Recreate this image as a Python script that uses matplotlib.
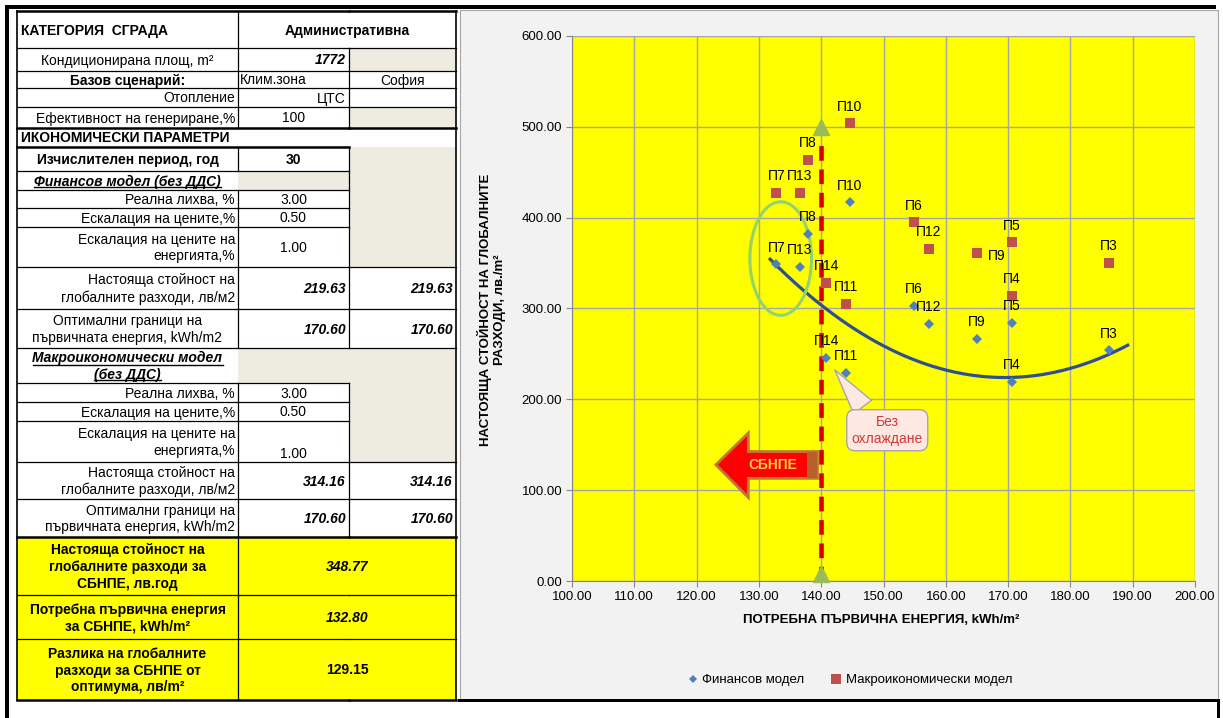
import matplotlib
matplotlib.use("Agg")
import matplotlib.pyplot as plt
import numpy as np
from matplotlib.patches import Rectangle, Ellipse, Polygon
from matplotlib.lines import Line2D
import matplotlib.transforms as mtransforms

plt.rcParams['font.family'] = ['Liberation Sans', 'DejaVu Sans']

# ---------------- data ----------------
packages = ['П3', 'П4', 'П5', 'П6', 'П7', 'П8', 'П9', 'П10', 'П11', 'П12', 'П13', 'П14']
energy = [186.2, 170.6, 170.6, 154.9, 132.8, 137.9, 165.0, 144.6, 144.0, 157.3, 136.6, 140.8]
fin_cost = [254.0, 219.63, 284.0, 303.0, 348.77, 382.0, 266.5, 417.0, 229.0, 283.0, 346.0, 245.6]
macro_cost = [350.0, 314.16, 373.0, 395.0, 427.0, 463.6, 361.0, 504.0, 305.0, 366.0, 427.0, 328.0]
sbnpe_limit = 140.0
sbnpe_arrow_top = 500.0

# polynomial trend line (financial model): vertex form
trend_vertex_x = 169.5
trend_min = 224.0
trend_curv = 0.0917
trend_range = [131.8, 189.2]

x_ticks = [100, 110, 120, 130, 140, 150, 160, 170, 180, 190, 200]
y_ticks = [0, 100, 200, 300, 400, 500, 600]

legend_labels = ['Финансов модел', 'Макроикономически модел']
x_title = 'ПОТРЕБНА ПЪРВИЧНА ЕНЕРГИЯ, kWh/m²'
y_title = 'НАСТОЯЩА СТОЙНОСТ НА ГЛОБАЛНИТЕ\nРАЗХОДИ, лв./m²'

# table rows: (col1 text, col1 align, col1 style, col2 text, col3 text, col2 fmt, col3 fmt, fills)
table_rows = [
    ('КАТЕГОРИЯ  СГРАДА', 'left', 'b', 'Административна', None, 'merge|b', None, ('w', 'w', 'w')),
    ('Кондиционирана площ, m²', 'center', 'n', '1772', '', 'right|bi', None, ('w', 'w', 'g')),
    ('Базов сценарий:', 'center', 'b', 'Клим.зона', 'София', 'left|n', 'center|n', ('w', 'w', 'w')),
    ('Отопление', 'right', 'n', 'ЦТС', '', 'right|n', None, ('w', 'w', 'w')),
    ('Ефективност на генериране,%', 'right', 'n', '100', '', 'center|n', None, ('w', 'w', 'g')),
    ('ИКОНОМИЧЕСКИ ПАРАМЕТРИ', 'left', 'b', '', '', None, None, ('w', 'w', 'w')),
    ('Изчислителен период, год', 'center', 'b', '30', '', 'center|b', None, ('w', 'w', 'g')),
    ('Финансов модел (без ДДС)', 'center', 'biu', '', '', None, None, ('w', 'g', 'g')),
    ('Реална лихва, %', 'right', 'n', '3.00', '', 'center|n', None, ('w', 'w', 'g')),
    ('Ескалация на цените,%', 'right', 'n', '0.50', '', 'center|n', None, ('w', 'w', 'g')),
    ('Ескалация на цените на\nенергията,%', 'right', 'n', '1.00', '', 'center|n', None, ('w', 'w', 'g')),
    ('Настояща стойност на\nглобалните разходи, лв/м2', 'right', 'n', '219.63', '219.63', 'right|bi', 'right|bi', ('w', 'w', 'w')),
    ('Оптимални граници на\nпървичната енергия, kWh/m2', 'center', 'n', '170.60', '170.60', 'right|bi', 'right|bi', ('w', 'w', 'w')),
    ('Макроикономически модел\n(без ДДС)', 'center', 'biu', '', '', None, None, ('w', 'g', 'g')),
    ('Реална лихва, %', 'right', 'n', '3.00', '', 'center|n', None, ('w', 'w', 'g')),
    ('Ескалация на цените,%', 'right', 'n', '0.50', '', 'center|n', None, ('w', 'w', 'g')),
    ('Ескалация на цените на\nенергията,%', 'right', 'n', '1.00', '', 'bottom|n', None, ('w', 'w', 'g')),
    ('Настояща стойност на\nглобалните разходи, лв/м2', 'right', 'n', '314.16', '314.16', 'right|bi', 'right|bi', ('w', 'w', 'w')),
    ('Оптимални граници на\nпървичната енергия, kWh/m2', 'right', 'n', '170.60', '170.60', 'right|bi', 'right|bi', ('w', 'w', 'w')),
    ('Настояща стойност на\nглобалните разходи за\nСБНПЕ, лв.год', 'center', 'b', '348.77', None, 'merge|bi', None, ('y', 'y', 'y')),
    ('Потребна първична енергия\nза СБНПЕ, kWh/m²', 'center', 'b', '132.80', None, 'merge|bi', None, ('y', 'y', 'y')),
    ('Разлика на глобалните\nразходи за СБНПЕ от\nоптимума, лв/m²', 'center', 'b', '129.15', None, 'merge|b', None, ('y', 'y', 'y')),
]

# ---------------- layout ----------------
W, H = 1223, 718
fig = plt.figure(figsize=(W / 100, H / 100), dpi=100)
fig.patch.set_facecolor('white')

tab = fig.add_axes([0, 0, 1, 1], zorder=0)
tab.set_xlim(0, W)
tab.set_ylim(H, 0)
tab.axis('off')

FILL = {'w': 'white', 'g': '#EEECE1', 'y': '#FFFF00'}
row_edges = [11, 48, 71, 88, 107, 128, 147, 171, 190, 208, 227, 267, 309, 348,
             383, 402, 421, 462, 499, 537, 595, 639, 700]
cx = [17, 238, 349, 456]
FS = 10

# chart area background
tab.add_patch(Rectangle((460, 10), 1218 - 460, 690, fc='#F2F2F2', ec='#A6A6A6', lw=0.8, zorder=1))


def put(text, fmt, xa, xb, y0, y1):
    if text is None or text == '' or fmt is None:
        return
    pos, sty = fmt.split('|')
    w = 'bold' if 'b' in sty else 'normal'
    st = 'italic' if 'i' in sty else 'normal'
    yy, va = (y0 + y1) / 2 + 1, 'center'
    if pos == 'bottom':
        yy, va, pos = y1 - 1, 'bottom', 'center'
    if pos == 'merge':
        pos = 'center'
    if pos == 'right':
        x, ha = xb - 3, 'right'
    elif pos == 'left':
        x, ha = xa + 2, 'left'
    else:
        x, ha = (xa + xb) / 2, 'center'
    tab.text(x, yy, text, ha=ha, va=va, fontsize=FS, fontweight=w, fontstyle=st, zorder=5)


underline_texts = []
for i, row in enumerate(table_rows):
    t1, a1, s1, t2, t3, f2, f3, fills = row
    y0, y1 = row_edges[i], row_edges[i + 1]
    ym = (y0 + y1) / 2
    for j in range(3):
        tab.add_patch(Rectangle((cx[j], y0), cx[j + 1] - cx[j], y1 - y0,
                                fc=FILL[fills[j]], ec='none', zorder=1))
    weight = 'bold' if 'b' in s1 else 'normal'
    style = 'italic' if 'i' in s1 else 'normal'
    if a1 == 'left':
        tx = cx[0] + 4
    elif a1 == 'right':
        tx = cx[1] - 3
    else:
        tx = (cx[0] + cx[1]) / 2
    txt = tab.text(tx, ym + 1, t1, ha=a1, va='center', fontsize=FS, fontweight=weight,
                   fontstyle=style, linespacing=1.25, zorder=5, multialignment=a1)
    if 'u' in s1:
        underline_texts.append(txt)
    if f2 is not None and f2.startswith('merge'):
        put(t2, f2, cx[1], cx[3], y0, y1)
    else:
        put(t2, f2, cx[1], cx[2], y0, y1)
        put(t3, f3, cx[2], cx[3], y0, y1)

# table borders
lc = 'black'
for i, y in enumerate(row_edges):
    lw = 1.8 if i in (0, 5, 6, 19, 22) else 0.9
    tab.plot([cx[0], cx[2]], [y, y], color=lc, lw=lw, zorder=6)
    above = table_rows[i - 1][7][2] if i > 0 else 'w'
    below = table_rows[i][7][2] if i < len(table_rows) else 'w'
    if not (above == 'g' and below == 'g') and i != 6:
        tab.plot([cx[2], cx[3]], [y, y], color=lc, lw=lw, zorder=6)
tab.plot([cx[0], cx[0]], [row_edges[0], row_edges[-1]], color=lc, lw=1.2, zorder=6)
tab.plot([cx[3], cx[3]], [row_edges[0], row_edges[-1]], color=lc, lw=1.2, zorder=6)
for i in range(len(table_rows)):
    y0, y1 = row_edges[i], row_edges[i + 1]
    if i not in (5, 7, 13):
        tab.plot([cx[1], cx[1]], [y0, y1], color=lc, lw=0.9, zorder=6)
    if i in (1, 2, 3, 4, 11, 12, 17, 18) or (6 <= i <= 10) or (14 <= i <= 16):
        tab.plot([cx[2], cx[2]], [y0, y1], color=lc, lw=0.9, zorder=6)

# black screenshot frame
tab.add_patch(Rectangle((5, 5), 1211, 4, fc='black', ec='none', zorder=7))
tab.add_patch(Rectangle((5, 5), 4, 713, fc='black', ec='none', zorder=7))
tab.add_patch(Rectangle((458, 699), 762, 3, fc='black', ec='none', zorder=7))
tab.add_patch(Rectangle((1217, 700), 3, 18, fc='black', ec='none', zorder=7))

# ---------------- chart ----------------
L, R, T, B = 572, 1195, 36, 581
ax = fig.add_axes([L / W, 1 - B / H, (R - L) / W, (B - T) / H], zorder=2)
ax.set_facecolor('#FFFF00')
ax.set_xlim(100, 200)
ax.set_ylim(0, 600)
ax.set_xticks(x_ticks)
ax.set_yticks(y_ticks)
ax.set_xticklabels([f'{v:.2f}' for v in x_ticks])
ax.set_yticklabels([f'{v:.2f}' for v in y_ticks])
ax.grid(True, color='#A6A6A6', lw=1.0, zorder=0)
ax.set_axisbelow(True)
for s in ('top', 'right'):
    ax.spines[s].set_visible(False)
for s in ('left', 'bottom'):
    ax.spines[s].set_color('#868686')
ax.tick_params(axis='both', direction='out', length=4, color='#868686', labelsize=9.5, pad=3)

ax.set_xlabel(x_title, fontsize=9.5, fontweight='bold')
ax.xaxis.set_label_coords(0.497, -0.061)
ax.set_ylabel(y_title, fontsize=9.5, fontweight='bold', linespacing=1.2)
ax.yaxis.set_label_coords(-0.106, 0.497)

# SBNPE vertical dashed line and green arrow heads
ax.plot([sbnpe_limit, sbnpe_limit], [0, 480], color='#D40000', lw=3.3,
        dashes=(3.2, 1.9), zorder=4, solid_capstyle='butt')
ax.plot([sbnpe_limit], [sbnpe_arrow_top], marker='^', ms=12, color='#9BBB59', zorder=5, clip_on=False)
tr_up = mtransforms.offset_copy(ax.transData, fig=fig, x=0, y=5, units='points')
ax.plot([sbnpe_limit], [0], marker='^', ms=12, color='#9BBB59', zorder=5, clip_on=False, transform=tr_up)

# trend line
xt = np.linspace(trend_range[0], trend_range[1], 200)
ax.plot(xt, trend_curv * (xt - trend_vertex_x) ** 2 + trend_min, color='#2F4F8F', lw=2.3, zorder=3)

# scatter series
ax.plot(energy, fin_cost, linestyle='none', marker='D', ms=5, color='#4F81BD', mew=0, zorder=6)
ax.plot(energy, macro_cost, linestyle='none', marker='s', ms=7.3, color='#C0504D', mew=0, zorder=6)

for lbl, xv, yf, ym_ in zip(packages, energy, fin_cost, macro_cost):
    ax.annotate(lbl, (xv, yf), textcoords='offset points', xytext=(0, 12), ha='center',
                va='center', fontsize=10, zorder=7)
    if lbl == 'П9':
        ax.annotate(lbl, (xv, ym_), textcoords='offset points', xytext=(8, -2), ha='left',
                    va='center', fontsize=10, zorder=7)
    else:
        ax.annotate(lbl, (xv, ym_), textcoords='offset points', xytext=(0, 12), ha='center',
                    va='center', fontsize=10, zorder=7)

# green ellipse around П7 / П13
ax.add_patch(Ellipse((133.5, 355), 9.9, 125, fc='none', ec='#92D36E', lw=2.2, zorder=5))

# callout "Без охлаждане"
ax.annotate('Без\nохлаждане', xy=(141.9, 235), xytext=(150.6, 166),
            ha='center', va='center', fontsize=10, color='#D03838', zorder=8, linespacing=1.3,
            bbox=dict(boxstyle='round,pad=0.35,rounding_size=0.6', fc='#FDE9E1', ec='#A6A6A6', lw=1),
            arrowprops=dict(arrowstyle='wedge,tail_width=1.6,shrink_factor=0.5', fc='#FDE9E1',
                            ec='#A6A6A6', lw=1, relpos=(0.25, 0.95)))

# SBNPE block arrow pointing left
arrow_pts = [(123.1, 128), (128.3, 163), (128.3, 142.5), (sbnpe_limit - 0.6, 142.5),
             (sbnpe_limit - 0.6, 113), (128.3, 113), (128.3, 92)]
ax.add_patch(Polygon(arrow_pts, closed=True, fc='#FF0000', ec='#C07830', lw=2, zorder=7))
ax.add_patch(Rectangle((sbnpe_limit - 2.3, 113), 1.7, 29.5, fc='#B8602C', ec='none', zorder=7))
ax.text(132.3, 128, 'СБНПЕ', ha='center', va='center', fontsize=10, fontweight='bold',
        color='#FFD040', zorder=8)

# legend
handles = [Line2D([], [], linestyle='none', marker='D', ms=4.5, color='#4F81BD', mew=0),
           Line2D([], [], linestyle='none', marker='s', ms=6.5, color='#C0504D', mew=0)]
fig.legend(handles, legend_labels, loc='center', bbox_to_anchor=(850 / W, 1 - 680 / H),
           ncol=2, frameon=False, fontsize=9.5, handlelength=0.8, handletextpad=0.3,
           columnspacing=2.0)

# underline for section headings
fig.canvas.draw()
r = fig.canvas.get_renderer()
inv = tab.transData.inverted()
for t in underline_texts:
    lines = t.get_text().split('\n')
    bb = t.get_window_extent(renderer=r)
    (x0, yb), (x1, yt) = inv.transform([[bb.x0, bb.y0], [bb.x1, bb.y1]])
    n = len(lines)
    lh = (yb - yt) / n
    for k in range(n):
        probe = tab.text(0, 0, lines[k], fontsize=FS, fontweight='bold', fontstyle='italic')
        pb = probe.get_window_extent(renderer=r)
        probe.remove()
        half = pb.width / 2
        cxm = (x0 + x1) / 2
        yl = yt + lh * (k + 1) - 1.5
        tab.plot([cxm - half, cxm + half], [yl, yl], color='black', lw=1, zorder=6)

fig.savefig('out.png', dpi=100)
